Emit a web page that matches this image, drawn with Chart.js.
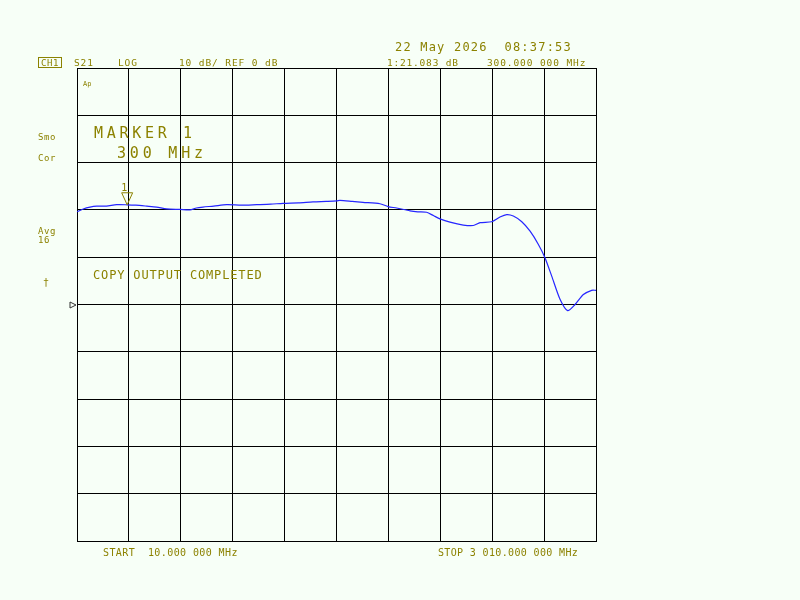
<!DOCTYPE html>
<html>
<head>
<meta charset="utf-8">
<script src="https://cdn.jsdelivr.net/npm/chart.js@4/dist/chart.umd.min.js"></script>
<style>
  html, body { margin: 0; padding: 0; background: #F7FFF7; }
  #wrap { position: relative; width: 800px; height: 600px; }
</style>
</head>
<body>
<div id="wrap"><canvas id="c" width="800" height="600"></canvas></div>
<script>
// ---- data ----
const freqMHz = [10, 46, 85, 124, 180, 239, 300, 350, 413, 470, 528, 605, 663, 700, 738, 800, 875, 960, 1049, 1130, 1201, 1290, 1374, 1450, 1511, 1530, 1600, 1663, 1761, 1808, 1858, 1935, 1980, 2031, 2070, 2108, 2166, 2243, 2301, 2340, 2407, 2455, 2494, 2532, 2581, 2629, 2677, 2715, 2754, 2802, 2846, 2889, 2937, 2985, 3010];
const s21dB = [19.6, 20.2, 20.6, 20.8, 20.8, 21.1, 21.08, 21.0, 20.8, 20.6, 20.2, 20.1, 20.0, 20.4, 20.6, 20.8, 21.1, 21.0, 21.1, 21.2, 21.4, 21.5, 21.7, 21.8, 21.9, 22.0, 21.8, 21.6, 21.3, 20.7, 20.4, 19.8, 19.6, 19.5, 18.8, 18.1, 17.4, 16.8, 16.7, 17.3, 17.5, 18.5, 19.0, 18.7, 17.5, 15.5, 12.7, 9.9, 6.0, 1.1, -1.3, 0.0, 2.1, 3.0, 3.0];
const xTicks = [10, 310, 610, 910, 1210, 1510, 1810, 2110, 2410, 2710, 3010];
const yTicks = [-50, -40, -30, -20, -10, 0, 10, 20, 30, 40, 50];
const markerFreq = 300;
const markerValue = 21.083;
const refLevel = 0;

const OLIVE = '#8C8200';
const FONT = '"DejaVu Sans Mono", "Liberation Mono", monospace';

const labels = [
  { t: 'S21', x: 74, y: 66, s: 9.5, ls: 0.9 },
  { t: 'LOG', x: 118, y: 66, s: 9.5, ls: 0.9 },
  { t: '10 dB/ REF 0 dB', x: 179, y: 66, s: 9.5, ls: 0.9 },
  { t: '22 May 2026  08:37:53', x: 395, y: 51, s: 12, ls: 1.2 },
  { t: '1:21.083 dB', x: 387, y: 66, s: 9.5, ls: 0.8 },
  { t: '300.000 000 MHz', x: 487, y: 66, s: 9.5, ls: 0.9 },
  { t: 'Ap', x: 83, y: 86, s: 7, ls: 0 },
  { t: 'Smo', x: 38, y: 140, s: 9, ls: 0.6 },
  { t: 'Cor', x: 38, y: 161, s: 9, ls: 0.6 },
  { t: 'MARKER 1', x: 94, y: 138, s: 15, ls: 3.7 },
  { t: '300 MHz', x: 117, y: 158, s: 15, ls: 3.8 },
  { t: 'Avg', x: 38, y: 234, s: 9, ls: 0.6 },
  { t: '16', x: 38, y: 243, s: 9, ls: 0.6 },
  { t: '†', x: 43, y: 286, s: 10, ls: 0 },
  { t: 'COPY OUTPUT COMPLETED', x: 93, y: 279, s: 12, ls: 0.85 },
  { t: 'START  10.000 000 MHz', x: 103, y: 556, s: 10, ls: 0.4 },
  { t: 'STOP 3 010.000 000 MHz', x: 438, y: 556, s: 10, ls: 0.35 }
];

const annot = {
  id: 'annot',
  beforeDraw(chart) {
    const ctx = chart.ctx;
    ctx.save();
    ctx.fillStyle = '#F7FFF7';
    ctx.fillRect(0, 0, chart.width, chart.height);
    ctx.restore();
  },
  afterDraw(chart) {
    const ctx = chart.ctx;
    const xs = chart.scales.x, ys = chart.scales.y;
    ctx.save();
    ctx.fillStyle = OLIVE;
    ctx.textBaseline = 'alphabetic';
    ctx.textAlign = 'left';
    labels.forEach(l => {
      ctx.font = l.s + 'px ' + FONT;
      ctx.letterSpacing = l.ls + 'px';
      ctx.fillText(l.t, l.x, l.y);
    });
    // CH1 boxed
    ctx.font = '9px ' + FONT;
    ctx.letterSpacing = '0.6px';
    ctx.fillText('CH1', 41, 66);
    ctx.strokeStyle = OLIVE;
    ctx.lineWidth = 1;
    ctx.strokeRect(38.5, 57.5, 23, 10);
    // marker triangle
    const mx = xs.getPixelForValue(markerFreq);
    const my = ys.getPixelForValue(markerValue);
    ctx.beginPath();
    ctx.moveTo(mx, my);
    ctx.lineTo(mx - 5.5, my - 12);
    ctx.lineTo(mx + 5.5, my - 12);
    ctx.closePath();
    ctx.stroke();
    ctx.font = '10px ' + FONT;
    ctx.letterSpacing = '0px';
    ctx.textAlign = 'center';
    ctx.fillText('1', mx - 3, my - 14);
    // reference position triangle
    const ry = ys.getPixelForValue(refLevel);
    const rx = xs.left;
    ctx.strokeStyle = '#333333';
    ctx.beginPath();
    ctx.moveTo(rx - 1, ry + 0.5);
    ctx.lineTo(rx - 7, ry - 2.5);
    ctx.lineTo(rx - 7, ry + 3.5);
    ctx.closePath();
    ctx.stroke();
    ctx.restore();
  }
};

new Chart(document.getElementById('c'), {
  type: 'line',
  data: {
    datasets: [{
      data: freqMHz.map((f, i) => ({ x: f, y: s21dB[i] })),
      borderColor: '#2626FF',
      borderWidth: 1.2,
      pointRadius: 0,
      tension: 0.25,
      fill: false
    }]
  },
  options: {
    responsive: false,
    animation: false,
    devicePixelRatio: 1,
    layout: { padding: { left: 77, top: 68, right: 204, bottom: 59 } },
    plugins: { legend: { display: false }, tooltip: { enabled: false } },
    scales: {
      x: {
        type: 'linear', min: 10, max: 3010,
        afterBuildTicks: s => { s.ticks = xTicks.map(v => ({ value: v })); },
        ticks: { display: false },
        grid: { color: '#000000', lineWidth: 1, drawTicks: false },
        border: { display: true, color: '#000000', width: 1 }
      },
      y: {
        type: 'linear', min: -50, max: 50,
        afterBuildTicks: s => { s.ticks = yTicks.map(v => ({ value: v })); },
        ticks: { display: false },
        grid: { color: '#000000', lineWidth: 1, drawTicks: false },
        border: { display: true, color: '#000000', width: 1 }
      }
    }
  },
  plugins: [annot]
});
</script>
</body>
</html>
